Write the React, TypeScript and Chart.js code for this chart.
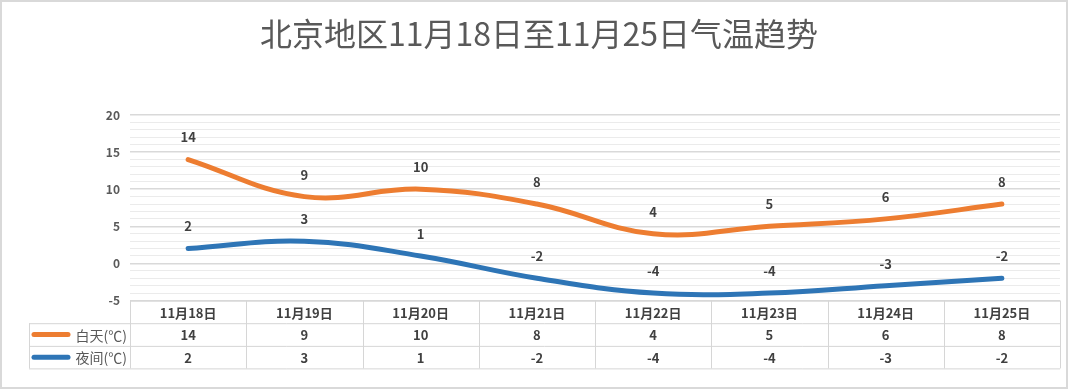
import React, { useEffect, useRef } from "react";
import { Chart, registerables } from "chart.js";

Chart.register(...registerables);

const TITLE = "北京地区11月18日至11月25日气温趋势";
const categories = ["11月18日", "11月19日", "11月20日", "11月21日", "11月22日", "11月23日", "11月24日", "11月25日"];
const dayTemps = [14, 9, 10, 8, 4, 5, 6, 8];
const nightTemps = [2, 3, 1, -2, -4, -4, -3, -2];
const seriesNames = ["白天(℃)", "夜间(℃)"];
const seriesColors = ["#ED7D31", "#2E75B6"];
const yMin = -5;
const yMax = 20;

const FONT = "'Noto Sans CJK SC', 'Open Sans', sans-serif";

const tablePlugin = {
  id: "tablePlugin",
  beforeDraw(chart: any) {
    const ctx = chart.ctx;
    ctx.save();
    ctx.fillStyle = "#ffffff";
    ctx.fillRect(0, 0, chart.width, chart.height);
    ctx.restore();
  },
  afterDraw(chart: any) {
    const ctx = chart.ctx;
    const area = chart.chartArea;
    const xs = chart.scales.x;
    const n = categories.length;
    const colW = (area.right - area.left) / n;
    const top = area.bottom;
    const rowH = [22.7, 22.7, 22.5];
    const y0 = top;
    const y1 = y0 + rowH[0];
    const y2 = y1 + rowH[1];
    const y3 = y2 + rowH[2];
    const legendLeft = 29;

    ctx.save();
    // title
    ctx.fillStyle = "#595959";
    ctx.font = `normal 32px ${FONT}`;
    ctx.textAlign = "center";
    ctx.textBaseline = "middle";
    ctx.fillText(TITLE, 539, 34);

    // frame
    ctx.strokeStyle = "#D9D9D9";
    ctx.lineWidth = 2;
    ctx.strokeRect(1, 1, 1066, 387);

    // table grid
    ctx.strokeStyle = "#D6D6D6";
    ctx.lineWidth = 1;
    ctx.beginPath();
    ctx.moveTo(area.left, y0 + 0.5);
    ctx.lineTo(area.right, y0 + 0.5);
    ctx.moveTo(legendLeft, y1 + 0.5);
    ctx.lineTo(area.right, y1 + 0.5);
    ctx.moveTo(legendLeft, y2 + 0.5);
    ctx.lineTo(area.right, y2 + 0.5);
    ctx.moveTo(legendLeft, y3 + 0.5);
    ctx.lineTo(area.right, y3 + 0.5);
    ctx.moveTo(legendLeft + 0.5, y1);
    ctx.lineTo(legendLeft + 0.5, y3);
    for (let i = 0; i <= n; i++) {
      const x = Math.round(area.left + colW * i) + 0.5;
      ctx.moveTo(x, y0);
      ctx.lineTo(x, y3);
    }
    ctx.stroke();

    // header labels
    ctx.fillStyle = "#404040";
    ctx.textAlign = "center";
    ctx.textBaseline = "middle";
    ctx.font = `bold 13px ${FONT}`;
    categories.forEach((c, i) => {
      ctx.fillText(c, xs.getPixelForValue(i), (y0 + y1) / 2 + 1);
    });
    // values
    ctx.font = `bold 13px ${FONT}`;
    const rows = [dayTemps, nightTemps];
    const rowMid = [(y1 + y2) / 2 + 1, (y2 + y3) / 2 + 1];
    rows.forEach((vals, r) => {
      vals.forEach((v, i) => {
        ctx.fillText(String(v), xs.getPixelForValue(i), rowMid[r]);
      });
      // legend sample
      ctx.strokeStyle = seriesColors[r];
      ctx.lineWidth = 5;
      ctx.lineCap = "round";
      ctx.beginPath();
      ctx.moveTo(34, rowMid[r] - 1);
      ctx.lineTo(68, rowMid[r] - 1);
      ctx.stroke();
      ctx.fillStyle = "#595959";
      ctx.font = `normal 14px ${FONT}`;
      ctx.textAlign = "right";
      ctx.fillText(seriesNames[r], area.left - 3, rowMid[r]);
      ctx.fillStyle = "#404040";
      ctx.font = `bold 13px ${FONT}`;
      ctx.textAlign = "center";
    });
    ctx.restore();
  },
  afterDatasetsDraw(chart: any) {
    const ctx = chart.ctx;
    ctx.save();
    ctx.fillStyle = "#404040";
    ctx.font = `bold 13px ${FONT}`;
    ctx.textAlign = "center";
    ctx.textBaseline = "middle";
    chart.data.datasets.forEach((ds: any, di: number) => {
      const meta = chart.getDatasetMeta(di);
      meta.data.forEach((pt: any, i: number) => {
        ctx.fillText(String(ds.data[i]), pt.x, pt.y - 22);
      });
    });
    ctx.restore();
  },
};

export default function App() {
  const ref = useRef<HTMLCanvasElement | null>(null);
  useEffect(() => {
    if (!ref.current) return;
    const chart = new Chart(ref.current, {
      type: "line",
      data: {
        labels: categories,
        datasets: [
          {
            label: seriesNames[0],
            data: dayTemps,
            borderColor: seriesColors[0],
            backgroundColor: seriesColors[0],
            borderWidth: 5,
            borderCapStyle: "round",
            pointRadius: 0,
            tension: 0.4,
          },
          {
            label: seriesNames[1],
            data: nightTemps,
            borderColor: seriesColors[1],
            backgroundColor: seriesColors[1],
            borderWidth: 5,
            borderCapStyle: "round",
            pointRadius: 0,
            tension: 0.4,
          },
        ],
      },
      plugins: [tablePlugin],
      options: {
        animation: false,
        responsive: false,
        devicePixelRatio: 1,
        layout: { padding: { left: 0, top: 115, right: 20, bottom: 89.5 } },
        plugins: {
          legend: { display: false },
          title: { display: false },
          tooltip: { enabled: false },
        },
        scales: {
          x: {
            type: "category",
            offset: true,
            display: false,
          },
          y: {
            min: yMin,
            max: yMax,
            afterFit: (s: any) => {
              s.width = 130;
            },
            border: { display: false },
            grid: {
              drawTicks: false,
              color: (c: any) => (c.tick && c.tick.value % 5 === 0 ? "#D9D9D9" : "#EBEBEB"),
              lineWidth: (c: any) => (c.tick && c.tick.value % 5 === 0 ? 1.5 : 1),
            },
            ticks: {
              stepSize: 1,
              autoSkip: false,
              padding: 10,
              color: "#595959",
              font: { family: FONT, size: 12, weight: "bold" },
              callback: (v: any) => (Number(v) % 5 === 0 ? String(v) : ""),
            },
          },
        },
      },
    } as any);
    return () => chart.destroy();
  }, []);
  return (
    <div style={{ position: "absolute", left: 0, top: 0, width: 1080, height: 390, background: "#fff" }}>
      <canvas ref={ref} width={1080} height={390} />
    </div>
  );
}
